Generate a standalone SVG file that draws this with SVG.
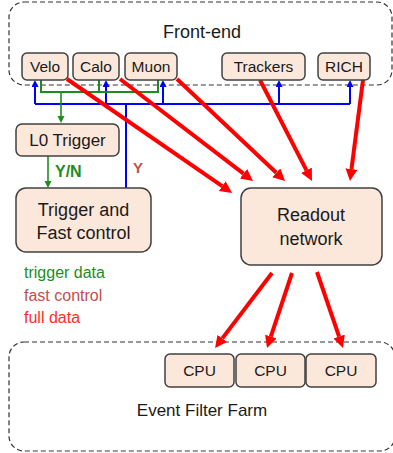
<svg xmlns="http://www.w3.org/2000/svg" width="393" height="453" viewBox="0 0 393 453">
  <style>
    text { font-family: "Liberation Sans", Arial, sans-serif; fill: #1a1a1a; }
    .zone { fill: none; stroke: #333; stroke-width: 1.2; stroke-dasharray: 5 3; }
    .box { fill: #fce8da; stroke: #404040; stroke-width: 1.5; }
    .red { stroke: #ff0000; stroke-width: 4; fill: none; marker-end: url(#hRed); }
    .blue { stroke: #0000ff; stroke-width: 2; fill: none; }
    .blueUp { stroke: #0000ff; stroke-width: 2; fill: none; marker-end: url(#hBlue); }
    .green { stroke: #1e8c1e; stroke-width: 2; fill: none; }
    .greenDown { stroke: #1e8c1e; stroke-width: 1.6; fill: none; marker-end: url(#hGreen); }
    .lbl { font-size: 15.5px; text-anchor: middle; }
    .big { font-size: 17px; text-anchor: middle; }
  </style>
  <defs>
    <marker id="hRed" markerUnits="userSpaceOnUse" markerWidth="14" markerHeight="14" refX="0" refY="6" orient="auto">
      <path d="M0,0 L12,6 L0,12 z" fill="#ff0000"/>
    </marker>
    <marker id="hBlue" markerUnits="userSpaceOnUse" markerWidth="8" markerHeight="8" refX="0" refY="3.5" orient="auto">
      <path d="M0,0 L7,3.5 L0,7 z" fill="#0000ff"/>
    </marker>
    <marker id="hGreen" markerUnits="userSpaceOnUse" markerWidth="8" markerHeight="8" refX="0" refY="3.5" orient="auto">
      <path d="M0,0 L7,3.5 L0,7 z" fill="#1e8c1e"/>
    </marker>
  </defs>

  <!-- dashed zones -->
  <g id="front-end">
    <rect class="zone" x="9" y="2" width="383" height="83" rx="15"/>
    <text x="202" y="38" class="big" style="font-size:18px">Front-end</text>
  </g>
  <g id="event-filter-farm">
    <rect class="zone" x="9" y="342" width="386" height="109" rx="15"/>
    <text x="202" y="416" class="big">Event Filter Farm</text>
  </g>

  <g id="connectors">
    <!-- fast control bus -->
    <path class="blue" d="M35,104 H350 M126,104 V188"/>
    <path class="blueUp" d="M35,104 V87"/>
    <path class="blueUp" d="M106,104 V87"/>
    <path class="blueUp" d="M163,104 V87"/>
    <path class="blueUp" d="M279,104 V87"/>
    <path class="blueUp" d="M350,104 V87"/>
    <!-- trigger data -->
    <path class="green" d="M41,80 V92 H158 V80 M99,80 V92"/>
    <path class="greenDown" d="M61,92 V116"/>
    <path class="greenDown" d="M48,156 V181"/>
    <!-- full data -->
    <line class="red" x1="67" y1="79" x2="222.2" y2="186.1"/>
    <line class="red" x1="120" y1="79" x2="243.5" y2="173.7"/>
    <line class="red" x1="177" y1="79" x2="276.3" y2="172.8"/>
    <line class="red" x1="260" y1="80" x2="306.5" y2="170.3"/>
    <line class="red" x1="363" y1="80" x2="351.5" y2="169.1"/>
    <line class="red" x1="272" y1="273" x2="222.3" y2="338.4"/>
    <line class="red" x1="292" y1="273" x2="270.8" y2="336.6"/>
    <line class="red" x1="317" y1="272" x2="339.1" y2="336.6"/>
    <text x="55" y="177" style="font-size:16px;font-weight:bold;fill:#1e8c1e">Y/N</text>
    <text x="133" y="173" style="font-size:15px;font-weight:bold;fill:#c0504d">Y</text>
  </g>

  <g id="velo"><rect class="box" x="22" y="53" width="46" height="27" rx="5"/><text x="45" y="72" class="lbl">Velo</text></g>
  <g id="calo"><rect class="box" x="73" y="53" width="46" height="27" rx="5"/><text x="96" y="72" class="lbl">Calo</text></g>
  <g id="muon"><rect class="box" x="125" y="53" width="52" height="27" rx="5"/><text x="151" y="72" class="lbl">Muon</text></g>
  <g id="trackers"><rect class="box" x="222" y="53" width="83" height="27" rx="5"/><text x="263.5" y="72" class="lbl">Trackers</text></g>
  <g id="rich"><rect class="box" x="318" y="53" width="52" height="27" rx="5"/><text x="344" y="72" class="lbl">RICH</text></g>

  <g id="l0-trigger"><rect class="box" x="16" y="124" width="103" height="32" rx="6"/><text x="67.5" y="146" class="big">L0 Trigger</text></g>
  <g id="trigger-fast-control">
    <rect class="box" x="16" y="188" width="135" height="64" rx="10"/>
    <text x="83.5" y="216" class="big" style="font-size:18px">Trigger and</text>
    <text x="83.5" y="239" class="big" style="font-size:18px">Fast control</text>
  </g>
  <g id="readout-network">
    <rect class="box" x="241" y="188" width="141" height="77" rx="10"/>
    <text x="311" y="221" class="big" style="font-size:18px">Readout</text>
    <text x="311" y="245" class="big" style="font-size:18px">network</text>
  </g>

  <g id="cpu-1"><rect class="box" x="165" y="354" width="69" height="33" rx="5"/><text x="199.5" y="376" class="lbl">CPU</text></g>
  <g id="cpu-2"><rect class="box" x="236" y="354" width="69" height="33" rx="5"/><text x="270.5" y="376" class="lbl">CPU</text></g>
  <g id="cpu-3"><rect class="box" x="306" y="354" width="70" height="33" rx="5"/><text x="341" y="376" class="lbl">CPU</text></g>

  <g id="legend" style="font-size:16px">
    <text x="24" y="278" style="fill:#1e8c1e">trigger data</text>
    <text x="24" y="301" style="fill:#c0504d">fast control</text>
    <text x="24" y="323" style="fill:#ff2d1f">full data</text>
  </g>
</svg>
